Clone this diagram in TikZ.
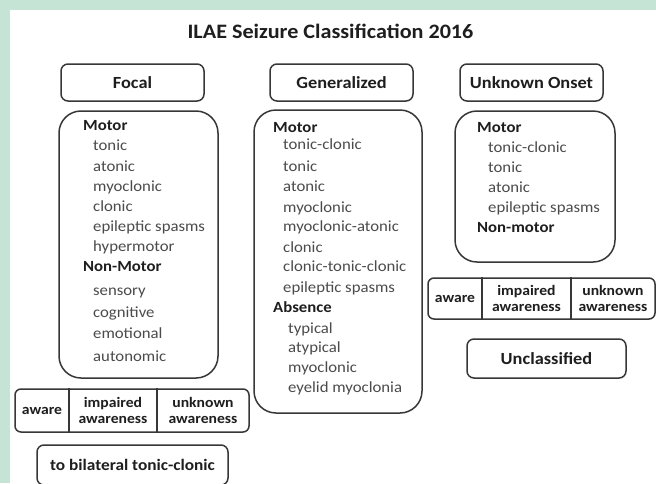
\documentclass[tikz,border=0pt]{standalone}
\usepackage{fontspec}
\setmainfont{Carlito}[FakeStretch=1.08]
\definecolor{bggreen}{RGB}{197,228,213}
\definecolor{linec}{RGB}{55,55,55}
\definecolor{darkt}{RGB}{30,30,30}
\definecolor{itemc}{RGB}{75,75,75}
\begin{document}
\begin{tikzpicture}[x=1pt,y=-1pt,
  boxline/.style={draw=linec, line width=1.5pt},
  hdr/.style={boxline, rounded corners=7pt, minimum width=143pt, minimum height=37pt, inner sep=0pt,
    font=\fontsize{17}{20}\selectfont\bfseries, text=darkt},
  grp/.style={boxline, rounded corners=22pt, inner sep=0pt},
  item/.style={anchor=base west, inner sep=0pt, font=\fontsize{15.5}{18}\selectfont, text=itemc},
  sub/.style={anchor=base west, inner sep=0pt, font=\fontsize{15.5}{18}\selectfont\bfseries, text=darkt},
  awrow/.style={boxline, rounded corners=6pt, inner sep=0pt},
  awtxt/.style={inner sep=0pt, align=center, font=\fontsize{14.5}{16}\selectfont\bfseries, text=darkt},
  divline/.style={draw=linec, line width=1.3pt}
]
\useasboundingbox (0,0) rectangle (656,483);
\fill[bggreen] (0,0) rectangle (656,483);
\fill[white] (10,10) rectangle (656,483);

% title
\node[anchor=base, inner sep=0pt, font=\fontsize{20.5}{24}\selectfont\bfseries, text=darkt] (title) at (330.5,38.5) {ILAE Seizure Classification 2016};

% headers
\node[hdr] (focal) at (132.5,82.5) {Focal};
\node[hdr] (gen) at (341.5,82.5) {Generalized};
\node[hdr] (unk) at (531.5,82.5) {Unknown Onset};

% group boxes
\node[grp, minimum width=159pt, minimum height=267pt] (fgrp) at (138.5,244.5) {};
\node[grp, minimum width=168pt, minimum height=303pt] (ggrp) at (338,261.5) {};
\node[grp, minimum width=160pt, minimum height=151pt] (ugrp) at (535,186.5) {};

% focal items
\node[sub] (fm) at (83,130) {Motor};
\foreach \t/\y [count=\i] in {tonic/150, atonic/171, myoclonic/191, clonic/211, epileptic spasms/231, hypermotor/251}
  \node[item] (fa\i) at (93,\y) {\t};
\node[sub] (fn) at (83,271) {Non-Motor};
\foreach \t/\y [count=\i] in {sensory/295, cognitive/317, emotional/338, autonomic/361}
  \node[item] (fb\i) at (93,\y) {\t};

% generalized items
\node[sub] (gm) at (273,132) {Motor};
\foreach \t/\y [count=\i] in {tonic-clonic/149, tonic/171, atonic/191, myoclonic/212, myoclonic-atonic/231, clonic/252, clonic-tonic-clonic/271, epileptic spasms/292}
  \node[item] (ga\i) at (283,\y) {\t};
\node[sub] (gabs) at (273,312) {Absence};
\foreach \t/\y [count=\i] in {typical/333, atypical/352, myoclonic/372, eyelid myoclonia/392}
  \node[item] (gb\i) at (288,\y) {\t};

% unknown items
\node[sub] (um) at (477,132) {Motor};
\foreach \t/\y [count=\i] in {tonic-clonic/152, tonic/172, atonic/192, epileptic spasms/212}
  \node[item] (ua\i) at (488,\y) {\t};
\node[sub] (un) at (477,232) {Non-motor};

% focal awareness row
\node[awrow, minimum width=234pt, minimum height=43pt] (faw) at (132,410.5) {};
\draw[divline] (faw.north -| 69,0) -- (faw.south -| 69,0);
\draw[divline] (faw.north -| 157,0) -- (faw.south -| 157,0);
\node[awtxt] (fawa) at (42,410.5) {aware};
\node[awtxt] (fawb) at (113,410.5) {impaired\\awareness};
\node[awtxt] (fawc) at (203,410.5) {unknown\\awareness};

% unknown awareness row
\node[awrow, minimum width=227pt, minimum height=41pt] (uaw) at (541.5,298.5) {};
\draw[divline] (uaw.north -| 482,0) -- (uaw.south -| 482,0);
\draw[divline] (uaw.north -| 571,0) -- (uaw.south -| 571,0);
\node[awtxt] (uawa) at (455,298.5) {aware};
\node[awtxt] (uawb) at (526.5,298.5) {impaired\\awareness};
\node[awtxt] (uawc) at (613,298.5) {unknown\\awareness};

% unclassified
\node[hdr, minimum width=159pt, minimum height=39pt] (uncl) at (546.5,358.5) {Unclassified};

% to bilateral
\node[hdr, minimum width=191pt, minimum height=40pt, font=\fontsize{16}{19}\selectfont\bfseries] (bil) at (132.5,465) {to bilateral tonic-clonic};
\end{tikzpicture}
\end{document}
